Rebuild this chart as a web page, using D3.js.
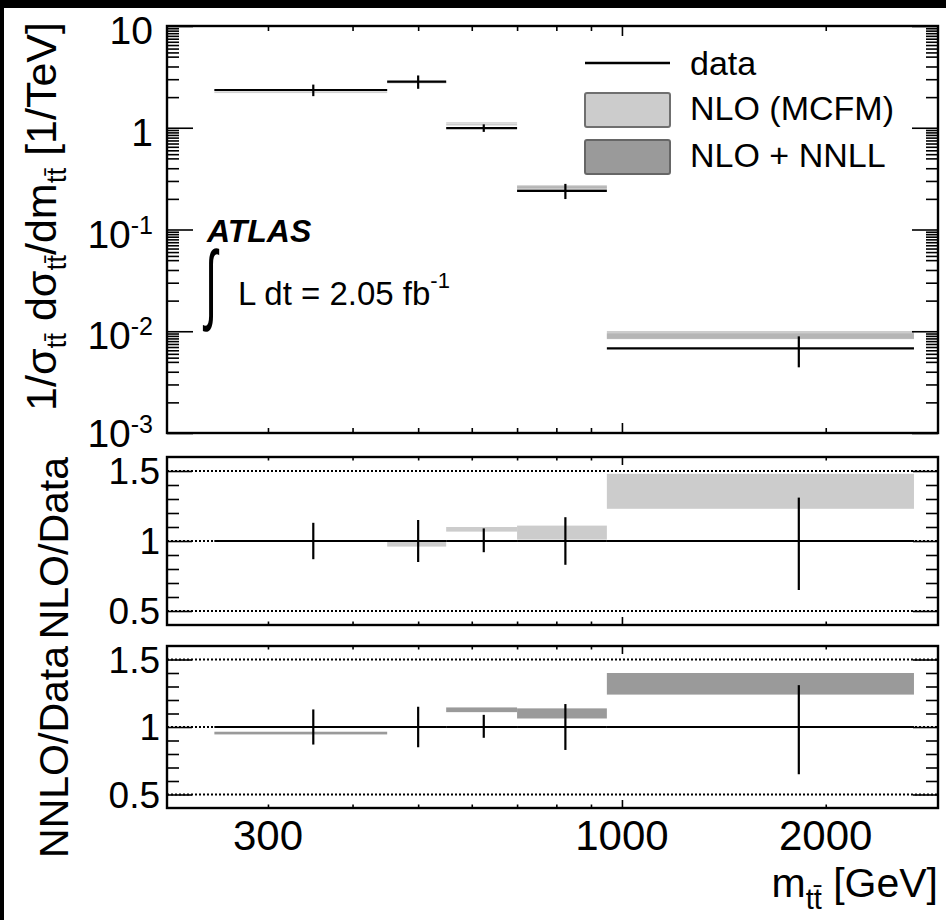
<!DOCTYPE html>
<html><head><meta charset="utf-8">
<script src="https://cdn.jsdelivr.net/npm/d3@7"></script>
<style>
html,body{margin:0;padding:0;background:#000;}
svg{display:block;}
text{font-family:"Liberation Sans",Arial,Helvetica,sans-serif;fill:#000;}
</style></head><body>
<svg id="chart" width="946" height="920"></svg>
<script>
// ---------------- data ----------------
const binLow    = [250, 450, 550, 700, 950];
const binHigh   = [450, 550, 700, 950, 2700];
const binCenter = [350, 500, 625, 825, 1825];
const dataValue = [2.35, 2.84, 0.99, 0.240, 0.0068];   // 1/sigma dsigma/dm [1/TeV]
const errUp     = [0.13, 0.15, 0.09, 0.17, 0.31];      // relative
const errDown   = [0.13, 0.15, 0.08, 0.17, 0.35];
const nloLow    = [0.995, 0.96, 1.067, 1.01, 1.23];    // NLO (MCFM) / data
const nloHigh   = [1.005, 1.00, 1.10, 1.11, 1.48];
const nnllLow   = [0.945, 0.995, 1.11, 1.063, 1.24];   // NLO+NNLL / data
const nnllHigh  = [0.965, 1.005, 1.145, 1.138, 1.40];

const xMajorTicks = [1000];
const xMinorTicks = [300, 400, 500, 600, 700, 800, 900, 2000];
const xLabelTicks = [300, 1000, 2000];
const xLabelText  = ["300", "1000", "2000"];
const yTopExp     = [-3, -2, -1, 0, 1];
const yTopMinorMult = [2, 3, 4, 5, 5.5, 6, 6.5, 7, 7.5, 8, 8.5, 9, 9.5];
const yRatioMajor = [0.5, 1, 1.5];
const yRatioMinor = [0.6, 0.7, 0.8, 0.9, 1.1, 1.2, 1.3, 1.4];
const yRatioLabels = ["0.5", "1", "1.5"];

// ---------------- layout ----------------
const svg = d3.select("#chart");
svg.append("rect").attr("x", 4).attr("y", 8).attr("width", 942).attr("height", 912).attr("fill", "#fff");

const L = 167, R = 938;
const x = d3.scaleLog().domain([212.8, 2930]).range([L, R]);
const yTop = d3.scaleLog().domain([1e-3, 10]).range([433, 26]);
const yMid = d3.scaleLinear().domain([0.4, 1.6]).range([625, 457]);
const yBot = d3.scaleLinear().domain([0.4, 1.6]).range([808, 646]);

const NLO_FILL = "#cccccc", NNLL_FILL = "#9a9a9a";

function cleanAxis(g) {
  g.select(".domain").remove();
  g.selectAll(".tick line").attr("stroke", "#000").attr("stroke-width", 1.6);
}

function xTicks(y0, y1, majLen, minLen) {
  [[xMinorTicks, minLen], [xMajorTicks, majLen]].forEach(([vals, len]) => {
    svg.append("g").attr("transform", `translate(0,${y0})`)
      .call(d3.axisTop(x).tickValues(vals).tickSize(-len).tickFormat(""))
      .call(cleanAxis);
    svg.append("g").attr("transform", `translate(0,${y1})`)
      .call(d3.axisBottom(x).tickValues(vals).tickSize(-len).tickFormat(""))
      .call(cleanAxis);
  });
}

function yTicks(scale, majVals, minVals, majLen, minLen) {
  [[minVals, minLen], [majVals, majLen]].forEach(([vals, len]) => {
    svg.append("g").attr("transform", `translate(${L},0)`)
      .call(d3.axisLeft(scale).tickValues(vals).tickSize(-len).tickFormat(""))
      .call(cleanAxis);
    svg.append("g").attr("transform", `translate(${R},0)`)
      .call(d3.axisRight(scale).tickValues(vals).tickSize(-len).tickFormat(""))
      .call(cleanAxis);
  });
}

function frame(y0, y1) {
  svg.append("rect").attr("x", L).attr("y", y0).attr("width", R - L).attr("height", y1 - y0)
    .attr("fill", "none").attr("stroke", "#000").attr("stroke-width", 2.4);
}

// ---------------- top panel ----------------
const topG = svg.append("g");
// theory bands (scaled by data)
topG.selectAll("rect.nlo").data(dataValue).join("rect")
  .attr("x", (d, i) => x(binLow[i])).attr("width", (d, i) => x(binHigh[i]) - x(binLow[i]))
  .attr("y", (d, i) => yTop(d * nloHigh[i]))
  .attr("height", (d, i) => Math.max(1.5, yTop(d * nloLow[i]) - yTop(d * nloHigh[i])))
  .attr("fill", NLO_FILL);
topG.selectAll("rect.nnll").data(dataValue).join("rect")
  .attr("x", (d, i) => x(binLow[i])).attr("width", (d, i) => x(binHigh[i]) - x(binLow[i]))
  .attr("y", (d, i) => yTop(d * nnllHigh[i]))
  .attr("height", (d, i) => Math.max(1.5, yTop(d * nnllLow[i]) - yTop(d * nnllHigh[i])))
  .attr("fill", NNLL_FILL).attr("opacity", 0.45);
// data
dataValue.forEach((v, i) => {
  topG.append("line").attr("x1", x(binLow[i])).attr("x2", x(binHigh[i]))
    .attr("y1", yTop(v)).attr("y2", yTop(v)).attr("stroke", "#000").attr("stroke-width", 2.2);
  topG.append("line").attr("x1", x(binCenter[i])).attr("x2", x(binCenter[i]))
    .attr("y1", yTop(v * (1 + errUp[i]))).attr("y2", yTop(v * (1 - errDown[i])))
    .attr("stroke", "#000").attr("stroke-width", 2.2);
});
xTicks(26, 433, 10, 5);
const topMinor = [];
yTopExp.slice(0, -1).forEach(e => yTopMinorMult.forEach(m => topMinor.push(m * Math.pow(10, e))));
yTicks(yTop, yTopExp.map(e => Math.pow(10, e)), topMinor, 26, 12);
frame(26, 433);
// y tick labels with exponents
yTopExp.forEach(e => {
  const t = svg.append("text").attr("x", 153)
    .attr("y", yTop(Math.pow(10, e)) + (e === -3 ? 14 : 18))
    .attr("text-anchor", "end").style("font-size", "39px");
  if (e === 0) t.text("1");
  else if (e === 1) t.text("10");
  else {
    t.append("tspan").text("10");
    t.append("tspan").attr("dy", -14).style("font-size", "25px").text(String(e));
  }
});

// ---------------- ratio panels ----------------
function ratioPanel(yS, y0, y1, lows, highs, fill) {
  const g = svg.append("g");
  g.selectAll("rect").data(lows).join("rect")
    .attr("x", (d, i) => x(binLow[i])).attr("width", (d, i) => x(binHigh[i]) - x(binLow[i]))
    .attr("y", (d, i) => yS(highs[i])).attr("height", (d, i) => yS(d) - yS(highs[i]))
    .attr("fill", fill);
  yRatioMajor.forEach(v => {
    g.append("line").attr("x1", L).attr("x2", R).attr("y1", yS(v)).attr("y2", yS(v))
      .attr("stroke", "#000").attr("stroke-width", 1.8).attr("stroke-dasharray", "2,2");
  });
  binLow.forEach((b, i) => {
    g.append("line").attr("x1", x(binLow[i])).attr("x2", x(binHigh[i]))
      .attr("y1", yS(1)).attr("y2", yS(1)).attr("stroke", "#000").attr("stroke-width", 2.2);
    g.append("line").attr("x1", x(binCenter[i])).attr("x2", x(binCenter[i]))
      .attr("y1", yS(1 + errUp[i])).attr("y2", yS(1 - errDown[i]))
      .attr("stroke", "#000").attr("stroke-width", 2.2);
  });
  xTicks(y0, y1, 8, 3.5);
  yTicks(yS, yRatioMajor, yRatioMinor, 25, 12);
  frame(y0, y1);
  yRatioMajor.forEach((v, i) => {
    svg.append("text").attr("x", 160).attr("y", yS(v) + 13).attr("text-anchor", "end")
      .style("font-size", "37px").text(yRatioLabels[i]);
  });
}
ratioPanel(yMid, 457, 625, nloLow, nloHigh, NLO_FILL);
ratioPanel(yBot, 646, 808, nnllLow, nnllHigh, NNLL_FILL);

// x tick labels
xLabelTicks.forEach((v, i) => {
  svg.append("text").attr("x", x(v)).attr("y", 850).attr("text-anchor", "middle")
    .style("font-size", "42px").text(xLabelText[i]);
});

// ---------------- titles ----------------
const xt = svg.append("text").attr("x", 938).attr("y", 897).attr("text-anchor", "end").style("font-size", "41px");
xt.append("tspan").text("m");
xt.append("tspan").attr("dy", 12).style("font-size", "29px").text("tt\u0304");
xt.append("tspan").attr("dy", -12).text(" [GeV]");

const yt = svg.append("text").attr("transform", "translate(66,22) rotate(-90)")
  .attr("text-anchor", "end").style("font-size", "43px");
[["1/σ", "tt\u0304"], [" dσ", "tt\u0304"], ["/dm", "tt\u0304"]].forEach(([a, s]) => {
  yt.append("tspan").attr("dy", yt.selectAll("tspan").size() ? -10 : 0).text(a);
  yt.append("tspan").attr("dy", 10).style("font-size", "28px").text(s);
});
yt.append("tspan").attr("dy", -10).text(" [1/TeV]");

svg.append("text").attr("transform", "translate(68,457) rotate(-90)").attr("text-anchor", "end")
  .style("font-size", "41px").text("NLO/Data");
svg.append("text").attr("transform", "translate(68,646) rotate(-90)").attr("text-anchor", "end")
  .style("font-size", "41px").text("NNLO/Data");

// ATLAS label
svg.append("text").attr("x", 207).attr("y", 242).style("font-size", "32px")
  .style("font-weight", "bold").style("font-style", "italic").text("ATLAS");
svg.append("text").attr("transform", "translate(205,313) scale(0.8,1.6)")
  .style("font-size", "55px").text("∫");
const lumi = svg.append("text").attr("x", 238).attr("y", 305).style("font-size", "33px");
lumi.append("tspan").text("L dt = 2.05 fb");
lumi.append("tspan").attr("dy", -17).style("font-size", "22px").text("-1");

// legend
const leg = svg.append("g");
leg.append("line").attr("x1", 585).attr("x2", 670).attr("y1", 63).attr("y2", 63)
  .attr("stroke", "#000").attr("stroke-width", 2.4);
leg.append("rect").attr("x", 585).attr("y", 93).attr("width", 85).attr("height", 34).attr("rx", 2)
  .attr("fill", NLO_FILL).attr("stroke", "#6f6f6f").attr("stroke-width", 2);
leg.append("rect").attr("x", 585).attr("y", 140).attr("width", 85).attr("height", 34).attr("rx", 2)
  .attr("fill", NNLL_FILL).attr("stroke", "#666").attr("stroke-width", 2);
leg.append("text").attr("x", 690).attr("y", 75).style("font-size", "34px").text("data");
leg.append("text").attr("x", 690).attr("y", 120).style("font-size", "34px").text("NLO (MCFM)");
leg.append("text").attr("x", 690).attr("y", 167).style("font-size", "34px").text("NLO + NNLL");
</script>
</body></html>
